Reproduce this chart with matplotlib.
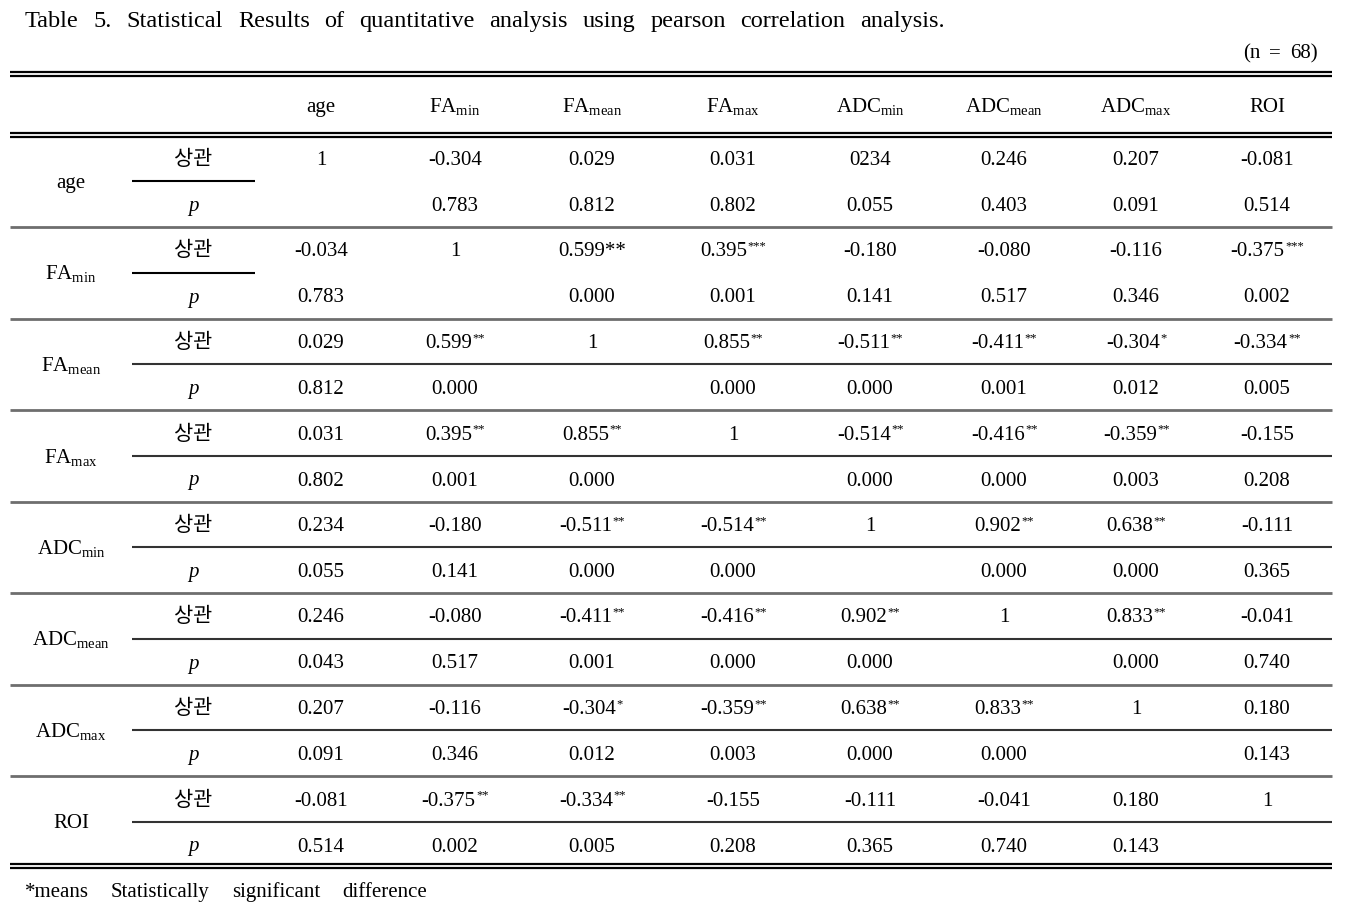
import matplotlib
matplotlib.use('Agg')
import matplotlib.pyplot as plt

plt.rcParams['font.family'] = ['Liberation Serif', 'DejaVu Serif']
plt.rcParams['mathtext.fontset'] = 'custom'
plt.rcParams['mathtext.rm'] = 'Liberation Serif'
plt.rcParams['mathtext.it'] = 'Liberation Serif:italic'

# table content
title = 'Table 5. Statistical Results of quantitative analysis using pearson correlation analysis.'
n_note = '(n = 68)'
footnote = '*means Statistically significant difference'
variables = [r'age', r'$\mathrm{FA}_{\mathrm{min}}$', r'$\mathrm{FA}_{\mathrm{mean}}$',
             r'$\mathrm{FA}_{\mathrm{max}}$', r'$\mathrm{ADC}_{\mathrm{min}}$',
             r'$\mathrm{ADC}_{\mathrm{mean}}$', r'$\mathrm{ADC}_{\mathrm{max}}$', 'ROI']

corr = [
    ['1', '-0.304', '0.029', '0.031', '0234', '0.246', '0.207', '-0.081'],
    ['-0.034', '1', '0.599**', '0.395', '-0.180', '-0.080', '-0.116', '-0.375'],
    ['0.029', '0.599', '1', '0.855', '-0.511', '-0.411', '-0.304', '-0.334'],
    ['0.031', '0.395', '0.855', '1', '-0.514', '-0.416', '-0.359', '-0.155'],
    ['0.234', '-0.180', '-0.511', '-0.514', '1', '0.902', '0.638', '-0.111'],
    ['0.246', '-0.080', '-0.411', '-0.416', '0.902', '1', '0.833', '-0.041'],
    ['0.207', '-0.116', '-0.304', '-0.359', '0.638', '0.833', '1', '0.180'],
    ['-0.081', '-0.375', '-0.334', '-0.155', '-0.111', '-0.041', '0.180', '1'],
]
stars = [
    ['', '', '', '', '', '', '', ''],
    ['', '', '', '***', '', '', '', '***'],
    ['', '**', '', '**', '**', '**', '*', '**'],
    ['', '**', '**', '', '**', '**', '**', ''],
    ['', '', '**', '**', '', '**', '**', ''],
    ['', '', '**', '**', '**', '', '**', ''],
    ['', '', '*', '**', '**', '**', '', ''],
    ['', '**', '**', '', '', '', '', ''],
]
pvals = [
    ['', '0.783', '0.812', '0.802', '0.055', '0.403', '0.091', '0.514'],
    ['0.783', '', '0.000', '0.001', '0.141', '0.517', '0.346', '0.002'],
    ['0.812', '0.000', '', '0.000', '0.000', '0.001', '0.012', '0.005'],
    ['0.802', '0.001', '0.000', '', '0.000', '0.000', '0.003', '0.208'],
    ['0.055', '0.141', '0.000', '0.000', '', '0.000', '0.000', '0.365'],
    ['0.043', '0.517', '0.001', '0.000', '0.000', '', '0.000', '0.740'],
    ['0.091', '0.346', '0.012', '0.003', '0.000', '0.000', '', '0.143'],
    ['0.514', '0.002', '0.005', '0.208', '0.365', '0.740', '0.143', ''],
]

# layout (pixel coordinates)
W, H = 1352, 909
fs = 15
x_left, x_right = 10, 1332
x_label, x_sub = 71, 193
col_x = [321, 455, 592, 733, 870, 1004, 1136, 1267]
y_header = 105
y_first = 158
group_h = 91.5
row_h = 46
base = 7

fig = plt.figure(figsize=(W / 100, H / 100), dpi=100)
ax = fig.add_axes([0, 0, 1, 1])
ax.set_xlim(0, W)
ax.set_ylim(H, 0)
ax.axis('off')
renderer = fig.canvas.get_renderer()
inv = ax.transData.inverted()


def width(t):
    bb = t.get_window_extent(renderer)
    return inv.transform((bb.x1, 0))[0] - inv.transform((bb.x0, 0))[0]


def hline(y, x0=x_left, x1=x_right, lw=1.4, color='black'):
    ax.plot([x0, x1], [y, y], color=color, lw=lw, solid_capstyle='butt')


def spread(words, x0, x1, y, size):
    # lay words out justified between x0 and x1
    items = [ax.text(0, y, w, fontsize=size, va='baseline', ha='left') for w in words]
    widths = [width(t) for t in items]
    gap = (x1 - x0 - sum(widths)) / max(len(words) - 1, 1)
    x = x0
    for t, w in zip(items, widths):
        t.set_x(x)
        x += w + gap


def cell(x, y, s, sup=''):
    t = ax.text(x, y, s, fontsize=fs, ha='left', va='baseline')
    w = width(t)
    if not sup:
        t.set_x(x - w / 2)
        return
    st = ax.text(0, y - 7, sup, fontsize=9, ha='left', va='baseline')
    ws = width(st)
    x0 = x - (w + ws) / 2
    t.set_x(x0)
    st.set_x(x0 + w + 0.5)


spread(title.split(), 25, 945, 27, 17.5)
spread(n_note.split(), 1243, 1318, 58, fs)
spread(footnote.split(), 25, 427, 897, fs)

# rules
hline(72, lw=1.6)
hline(75.5, lw=1.6)
hline(133, lw=1.6)
hline(136.5, lw=1.6)
hline(864, lw=1.6)
hline(867.5, lw=1.6)

for j, v in enumerate(variables):
    ax.text(col_x[j], y_header + base, v, fontsize=fs, ha='center', va='baseline')

for i, v in enumerate(variables):
    yc = y_first + i * group_h
    yp = yc + row_h
    ax.text(x_label, yc + row_h / 2 + base, v, fontsize=fs, ha='center', va='baseline')
    ax.text(x_sub, yc + 1, '상관', fontsize=fs, ha='center', va='center',
            family=['Noto Sans CJK KR', 'DejaVu Sans'], fontweight='light')
    ax.text(x_sub, yp + base, 'p', fontsize=fs, ha='center', va='baseline', style='italic')
    for j in range(len(col_x)):
        cell(col_x[j], yc + base, corr[i][j], stars[i][j])
        if pvals[i][j]:
            cell(col_x[j], yp + base, pvals[i][j])
    # separator between correlation row and p row
    if i < 2:
        hline(yc + row_h / 2, 132, 255, lw=1.5)
    else:
        hline(yc + row_h / 2, 132, x_right, lw=1.5, color='#333333')
    # separator between groups
    if i < len(variables) - 1:
        hline(yc + group_h - 22.5, lw=2.0, color='#6e6e6e')

fig.savefig('out.png', dpi=100)
